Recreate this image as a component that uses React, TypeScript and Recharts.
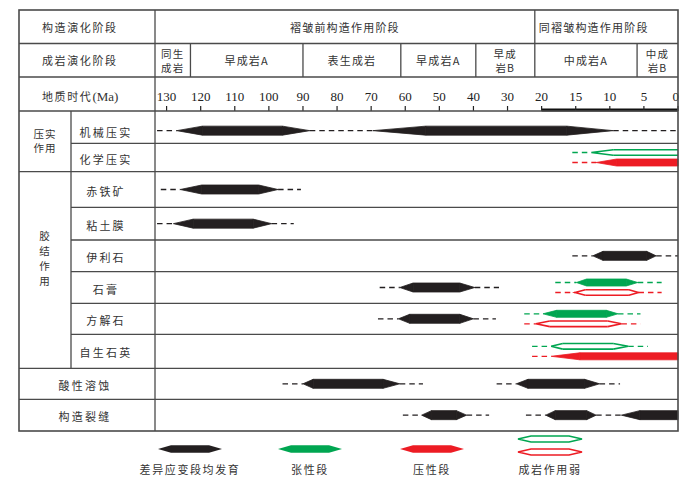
import React from "react";
import { ComposedChart, XAxis, YAxis, ReferenceArea, ReferenceLine } from "recharts";

// ---------- data (ages in Ma) ----------
const TIME_TICKS = [130, 120, 110, 100, 90, 80, 70, 60, 50, 40, 30, 20, 15, 10, 5, 0];
const OLDEST_MA = 133.4; // left edge of the time column
const ZOOM_FROM_MA = 20; // younger than this the axis is drawn at double scale

const TECTONIC_STAGES = ["褶皱前构造作用阶段", "同褶皱构造作用阶段"];
const TECTONIC_BOUNDS = [OLDEST_MA, 22, 0];

const DIAGENETIC_STAGES = ["同生\n成岩", "早成岩A", "表生成岩", "早成岩A", "早成\n岩B", "中成岩A", "中成\n岩B"];
const DIAGENETIC_BOUNDS = [OLDEST_MA, 123, 90, 61.3, 39.3, 22, 6, 0];

const PROCESSES = ["机械压实", "化学压实", "赤铁矿", "粘土膜", "伊利石", "石膏", "方解石", "自生石英", "酸性溶蚀", "构造裂缝"];
const GROUP_NAMES = [["压实", "作用"], ["胶", "结", "作", "用"]];
const GROUP_SPANS = [["机械压实", "化学压实"], ["赤铁矿", "自生石英"]];

const HEADER_LABELS = ["构造演化阶段", "成岩演化阶段", "地质时代"];
const LEGEND_LABELS = ["差异应变段均发育", "张性段", "压性段", "成岩作用弱"];

// [process, onset, rise, peak from, peak to, fade, end]
type Mark = [string, number, number, number, number, number, number];

const ALL_STRAIN: Mark[] = [
  ["机械压实", 132.8, 127, 119.5, 96, 88, 69.5],
  ["机械压实", 69.5, 69.5, 54, 16.3, 9.5, 0],
  ["赤铁矿", 131.7, 126, 119.7, 103, 97.3, 90.6],
  ["粘土膜", 132.8, 128, 122.2, 104.6, 99.2, 92.7],
  ["伊利石", 15.5, 12.5, 11, 4.6, 3.2, 0],
  ["石膏", 67.5, 61.6, 57.7, 44, 39.6, 32.5],
  ["方解石", 68, 62, 58.7, 44, 40, 33.4],
  ["酸性溶蚀", 96, 90, 87, 66.5, 61.6, 54.8],
  ["酸性溶蚀", 33.2, 27.4, 24, 13.7, 11.5, 8.5],
  ["构造裂缝", 60.7, 55.2, 52.3, 45, 42, 35.4],
  ["构造裂缝", 24.6, 19.4, 18, 13.4, 12, 8.3],
  ["构造裂缝", 8.3, 8.3, 5.6, 0, 0, 0],
];
const TENSILE: Mark[] = [
  ["石膏", 18, 14.9, 13.4, 7.6, 5.9, 2.4],
  ["方解石", 25.1, 19.8, 17.8, 10.5, 8.8, 5.5],
];
const COMPRESSIVE: Mark[] = [
  ["化学压实", 15.5, 12, 9, 0, 0, 0],
  ["自生石英", 22.8, 18.6, 14.4, 0, 0, 0],
];
const TENSILE_WEAK: Mark[] = [
  ["化学压实", 15.5, 12.7, 9.5, 0, 0, 0],
  ["自生石英", 22.8, 18.6, 16.9, 9.5, 7.3, 4.4],
];
const COMPRESSIVE_WEAK: Mark[] = [
  ["石膏", 18, 15.1, 13.6, 7.2, 5.8, 2.4],
  ["方解石", 25.1, 21.7, 18.8, 10.3, 8.3, 5.5],
];

// ---------- layout ----------
const W = 694;
const H = 479;
const TABLE_LEFT = 19;
const GROUP_COL = 71;
const TIME_LEFT = 155;
const TIME_RIGHT = 678;
const HEADER_Y = [10, 43.5, 77, 111];
const AXIS_Y = 111;
const AXIS_H = 30;
const TABLE_BOTTOM = 431;
// row edges, px below the axis line
const ROW_EDGES = [0, 32.3, 60.7, 96.3, 129, 160.7, 192.3, 223.3, 257.3, 288.3, 320];
const FIRST_ROW_DY = 3.5; // first row's content sits a little low
const GROUP_TEXT_DY = [-1, -12];
const GROUP_TEXT_STEP = [14, 15];
const CJK_PITCH = 12.2; // approx advance of one character incl. spacing

const LINE = "#4a4a4a";
const CJK = "'Noto Sans CJK SC', 'Noto Sans', sans-serif";
const SERIF = "'Liberation Serif', 'DejaVu Serif', serif";
const TEXT = "#333";

const BLACK = "#231f20";
const GREEN = "#00a651";
const RED = "#ed1c24";

type Kind = { color: string; thick: number; hollow: boolean; lane: number };
const K_ALL: Kind = { color: BLACK, thick: 9, hollow: false, lane: 0 };
const K_TEN: Kind = { color: GREEN, thick: 7, hollow: false, lane: -5 };
const K_COM: Kind = { color: RED, thick: 7, hollow: false, lane: 5 };
const K_TEN_W: Kind = { color: GREEN, thick: 5.6, hollow: true, lane: -5 };
const K_COM_W: Kind = { color: RED, thick: 5.6, hollow: true, lane: 5 };

// The time axis is linear in Ma above 20 Ma and twice as wide below it,
// so the chart's x axis runs in "stretched" units and the ticks are labelled in Ma.
const stretch = (ma: number) => (ma > ZOOM_FROM_MA ? ma + ZOOM_FROM_MA : ma * 2);
const TICK_POS = TIME_TICKS.map(stretch);
const tickLabel = (v: number) => {
  const i = TICK_POS.findIndex((p) => Math.abs(p - v) < 1e-6);
  return i >= 0 ? String(TIME_TICKS[i]) : "";
};
const axisData = TIME_TICKS.map((ma) => ({ ma, pos: stretch(ma) }));

const rowIndex = (name: string) => PROCESSES.indexOf(name);
const rowMid = (i: number) => (ROW_EDGES[i] + ROW_EDGES[i + 1]) / 2 + (i === 0 ? FIRST_ROW_DY : 0);

function TimeTick(props: any) {
  const { x, y, payload } = props;
  const last = payload.value === 0;
  return (
    <text
      x={last ? x + 1 : x}
      y={y}
      textAnchor={last ? "end" : "middle"}
      fontFamily={SERIF}
      fontSize={13}
      fill="#222"
    >
      {tickLabel(payload.value)}
    </text>
  );
}

function Piece(props: any) {
  const { x, y, width, height, part, kind } = props;
  const x2 = x + width;
  const y2 = y + height;
  const cy = y + height / 2;
  if (kind.hollow) {
    let d = "";
    if (part === "rise") d = `M${x2},${y} L${x},${cy} L${x2},${y2}`;
    else if (part === "fall") d = `M${x},${y} L${x2},${cy} L${x},${y2}`;
    else d = `M${x},${y} H${x2} M${x},${y2} H${x2}`;
    return <path d={d} fill="none" stroke={kind.color} strokeWidth={1.6} strokeLinejoin="miter" />;
  }
  let d = "";
  if (part === "rise") d = `M${x},${cy} L${x2},${y} L${x2},${y2} Z`;
  else if (part === "fall") d = `M${x},${y} L${x2},${cy} L${x},${y2} Z`;
  else d = `M${x},${y} H${x2} V${y2} H${x} Z`;
  return <path d={d} fill={kind.color} stroke={kind.color} strokeWidth={0.8} strokeLinejoin="miter" />;
}

function renderMarks(list: Mark[], kind: Kind, prefix: string) {
  return list.flatMap((m, i) => {
    const [row, onset, rise, peakFrom, peakTo, fade, end] = m;
    const cy = rowMid(rowIndex(row)) + kind.lane;
    const half = kind.thick / 2;
    const k = `${prefix}-${i}`;
    const dash = (a: number, b: number, key: string) => (
      <ReferenceLine
        key={key}
        segment={[{ x: stretch(a), y: cy }, { x: stretch(b), y: cy }]}
        stroke={kind.color}
        strokeWidth={1.3}
        strokeDasharray="5.5 4"
        ifOverflow="visible"
      />
    );
    const piece = (a: number, b: number, part: string, key: string) => (
      <ReferenceArea
        key={key}
        x1={stretch(a)}
        x2={stretch(b)}
        y1={cy - half}
        y2={cy + half}
        ifOverflow="visible"
        shape={(p: any) => <Piece {...p} part={part} kind={kind} />}
      />
    );
    const els = [];
    if (onset > rise) els.push(dash(onset, rise, k + "d0"));
    if (rise > peakFrom) els.push(piece(rise, peakFrom, "rise", k + "r"));
    if (peakFrom > peakTo) els.push(piece(peakFrom, peakTo, "peak", k + "p"));
    if (peakTo > fade) els.push(piece(peakTo, fade, "fall", k + "f"));
    if (fade > end) els.push(dash(fade, end, k + "d1"));
    return els;
  });
}

function StageCell(props: any) {
  const { x, y, width, height, label, first } = props;
  const lines = String(label).split("\n");
  const longest = Math.max(...lines.map((l) => l.length)) * CJK_PITCH;
  // long labels sit near the left edge of a tight cell, short ones are centred
  const tight = longest > width * 0.72;
  const tx = tight ? x + 4 : x + width / 2;
  const cy = y + height / 2;
  return (
    <g>
      {!first && <line x1={x} y1={y} x2={x} y2={y + height} stroke={LINE} strokeWidth={1.3} />}
      {lines.map((t, i) => (
        <text
          key={i}
          x={tx}
          y={cy + (i - (lines.length - 1) / 2) * 14.5}
          textAnchor={tight ? "start" : "middle"}
          dominantBaseline="central"
          fontFamily={CJK}
          fontSize={lines.length > 1 ? 10.5 : 11}
          letterSpacing={1.2}
          fill={TEXT}
        >
          {t}
        </text>
      ))}
    </g>
  );
}

function renderStages(names: string[], bounds: number[], top: number, bottom: number, prefix: string) {
  return names.map((name, i) => (
    <ReferenceArea
      key={prefix + i}
      x1={stretch(bounds[i])}
      x2={stretch(bounds[i + 1])}
      y1={top - AXIS_Y}
      y2={bottom - AXIS_Y}
      ifOverflow="visible"
      shape={(p: any) => <StageCell {...p} label={name} first={i === 0} />}
    />
  ));
}

function hexPath(x0: number, x1: number, cy: number, half: number, taper: number) {
  return `M${x0},${cy} L${x0 + taper},${cy - half} L${x1 - taper},${cy - half} L${x1},${cy} L${x1 - taper},${cy + half} L${x0 + taper},${cy + half} Z`;
}

function Frame() {
  const groupOf = (i: number) => GROUP_SPANS.findIndex(([a, b]) => i >= rowIndex(a) && i <= rowIndex(b));
  const lines: React.ReactElement[] = [];
  HEADER_Y.slice(1).forEach((y, i) =>
    lines.push(<line key={"h" + i} x1={TABLE_LEFT} y1={y} x2={TIME_RIGHT} y2={y} />)
  );
  ROW_EDGES.slice(1, -1).forEach((e, i) => {
    const same = groupOf(i) >= 0 && groupOf(i) === groupOf(i + 1);
    lines.push(
      <line key={"r" + i} x1={same ? GROUP_COL : TABLE_LEFT} y1={AXIS_Y + e} x2={TIME_RIGHT} y2={AXIS_Y + e} />
    );
  });
  const groupEnd = AXIS_Y + ROW_EDGES[rowIndex(GROUP_SPANS[GROUP_SPANS.length - 1][1]) + 1];
  lines.push(<line key="gc" x1={GROUP_COL} y1={AXIS_Y} x2={GROUP_COL} y2={groupEnd} />);
  lines.push(<line key="tc" x1={TIME_LEFT} y1={HEADER_Y[0]} x2={TIME_LEFT} y2={TABLE_BOTTOM} />);

  const legendX = [190, 310, 432, 550];
  const legendKinds = [K_ALL, K_TEN, K_COM];

  return (
    <svg width={W} height={H} style={{ position: "absolute", left: 0, top: 0, pointerEvents: "none" }}>
      <g stroke={LINE} strokeWidth={1.3}>
        {lines}
        <rect x={TABLE_LEFT} y={HEADER_Y[0]} width={TIME_RIGHT - TABLE_LEFT} height={TABLE_BOTTOM - HEADER_Y[0]} fill="none" strokeWidth={1.6} />
      </g>
      <g fontFamily={CJK} fontSize={11} fill={TEXT} letterSpacing={1.6}>
        {HEADER_LABELS.map((t, i) => (
          <text key={t} x={42} y={(HEADER_Y[i] + HEADER_Y[i + 1]) / 2 + (i === 2 ? 2 : 0)} dominantBaseline="central">
            {t}
            {i === 2 && (
              <tspan fontFamily={SERIF} fontSize={13} letterSpacing={0}>
                (Ma)
              </tspan>
            )}
          </text>
        ))}
        {PROCESSES.map((p, i) => {
          const grouped = groupOf(i) >= 0;
          return (
            <text
              key={p}
              x={grouped ? 106 : 85}
              y={AXIS_Y + rowMid(i) + 1}
              textAnchor="middle"
              dominantBaseline="central"
              letterSpacing={2.2}
            >
              {p}
            </text>
          );
        })}
        {GROUP_NAMES.map((chars, g) => {
          const top = AXIS_Y + ROW_EDGES[rowIndex(GROUP_SPANS[g][0])];
          const bottom = AXIS_Y + ROW_EDGES[rowIndex(GROUP_SPANS[g][1]) + 1];
          const mid = (top + bottom) / 2 + GROUP_TEXT_DY[g];
          return chars.map((c, j) => (
            <text
              key={g + "-" + j}
              x={45}
              y={mid + (j - (chars.length - 1) / 2) * GROUP_TEXT_STEP[g]}
              textAnchor="middle"
              dominantBaseline="central"
              fontSize={10.5}
              letterSpacing={1}
            >
              {c}
            </text>
          ));
        })}
      </g>
      <g>
        {legendKinds.map((k, i) => (
          <path key={i} d={hexPath(legendX[i] - 32, legendX[i] + 32, 449, 3.8, 13)} fill={k.color} />
        ))}
        <path d={hexPath(legendX[3] - 32, legendX[3] + 32, 439, 3, 13)} fill="none" stroke={GREEN} strokeWidth={1.6} />
        <path d={hexPath(legendX[3] - 32, legendX[3] + 32, 452, 3, 13)} fill="none" stroke={RED} strokeWidth={1.6} />
        {LEGEND_LABELS.map((t, i) => (
          <text
            key={t}
            x={legendX[i]}
            y={469}
            textAnchor="middle"
            dominantBaseline="central"
            fontFamily={CJK}
            fontSize={11}
            letterSpacing={1.6}
            fill={TEXT}
          >
            {t}
          </text>
        ))}
      </g>
    </svg>
  );
}

export default function App() {
  return (
    <div style={{ position: "absolute", left: 0, top: 0, width: W, height: H, background: "#fff" }}>
      <ComposedChart
        width={W}
        height={H}
        data={axisData}
        margin={{ top: AXIS_Y - AXIS_H, left: TIME_LEFT, right: W - TIME_RIGHT, bottom: H - TABLE_BOTTOM }}
      >
        <XAxis
          dataKey="pos"
          type="number"
          orientation="top"
          domain={[0, stretch(OLDEST_MA)]}
          reversed
          allowDataOverflow
          ticks={TICK_POS}
          interval={0}
          height={AXIS_H}
          axisLine={false}
          tickSize={5}
          tickMargin={5}
          tickLine={{ stroke: "#222", strokeWidth: 1.2 }}
          tick={<TimeTick />}
        />
        <YAxis type="number" domain={[0, ROW_EDGES[ROW_EDGES.length - 1]]} reversed hide width={0} allowDataOverflow />
        {renderStages(TECTONIC_STAGES, TECTONIC_BOUNDS, HEADER_Y[0], HEADER_Y[1], "ts")}
        {renderStages(DIAGENETIC_STAGES, DIAGENETIC_BOUNDS, HEADER_Y[1], HEADER_Y[2], "ds")}
        <ReferenceLine
          segment={[{ x: stretch(ZOOM_FROM_MA), y: -1 }, { x: 0, y: -1 }]}
          stroke="#111"
          strokeWidth={3}
          ifOverflow="visible"
        />
        {renderMarks(ALL_STRAIN, K_ALL, "all")}
        {renderMarks(TENSILE, K_TEN, "ten")}
        {renderMarks(COMPRESSIVE, K_COM, "com")}
        {renderMarks(TENSILE_WEAK, K_TEN_W, "tenw")}
        {renderMarks(COMPRESSIVE_WEAK, K_COM_W, "comw")}
      </ComposedChart>
      <Frame />
    </div>
  );
}
